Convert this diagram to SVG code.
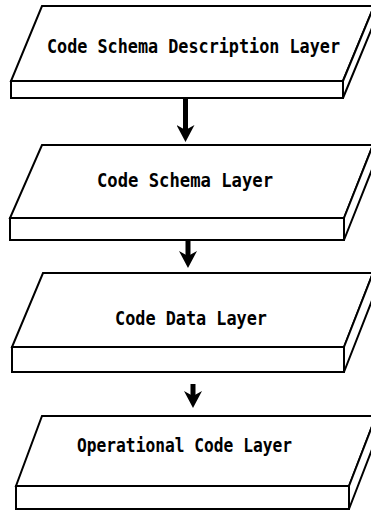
<svg xmlns="http://www.w3.org/2000/svg" width="371" height="512" viewBox="0 0 371 512">
  <style>
    .slab { fill: #ffffff; stroke: #000000; stroke-width: 2; stroke-linejoin: miter; }
    .label { font-family: "DejaVu Sans Mono", "Liberation Mono", monospace; font-weight: bold; font-size: 17px; fill: #000000; }
    .flow { stroke: #000000; stroke-width: 5; fill: none; marker-end: url(#head); }
  </style>
  <defs>
    <marker id="head" viewBox="0 0 17 18" refX="7" refY="9" markerWidth="17" markerHeight="18" markerUnits="userSpaceOnUse" orient="auto">
      <path d="M0,0 L17,9 L0,18 L5,9 Z" fill="#000000"/>
    </marker>
  </defs>
  <rect width="371" height="512" fill="#ffffff"/>

  <!-- Layer 1 -->
  <g id="code-schema-description-layer">
    <path class="slab" d="M42,6 L374,6 L343,81 L11,81 Z"/>
    <rect class="slab" x="11" y="81" width="332" height="17"/>
    <path class="slab" d="M343,81 L374,6 L374,23 L343,98 Z"/>
    <text class="label" transform="translate(47,53) scale(1,1.18)" x="0" y="0" textLength="293" lengthAdjust="spacingAndGlyphs">Code Schema Description Layer</text>
  </g>

  <!-- Layer 2 -->
  <g id="code-schema-layer">
    <path class="slab" d="M42,145 L373,145 L344,218 L10,218 Z"/>
    <rect class="slab" x="10" y="218" width="334" height="22"/>
    <path class="slab" d="M344,218 L373,145 L373,167 L344,240 Z"/>
    <text class="label" transform="translate(97,187) scale(1,1.18)" x="0" y="0" textLength="176" lengthAdjust="spacingAndGlyphs">Code Schema Layer</text>
  </g>

  <!-- Layer 3 -->
  <g id="code-data-layer">
    <path class="slab" d="M43,273 L373,273 L344,347 L12,347 Z"/>
    <rect class="slab" x="12" y="347" width="332" height="25"/>
    <path class="slab" d="M344,347 L373,273 L373,298 L344,372 Z"/>
    <text class="label" transform="translate(115,325) scale(1,1.18)" x="0" y="0" textLength="152" lengthAdjust="spacingAndGlyphs">Code Data Layer</text>
  </g>

  <!-- Layer 4 -->
  <g id="operational-code-layer">
    <path class="slab" d="M42,416 L376,416 L349,486 L16,486 Z"/>
    <rect class="slab" x="16" y="486" width="333" height="23"/>
    <path class="slab" d="M349,486 L376,416 L376,439 L349,509 Z"/>
    <text class="label" transform="translate(77,452) scale(1,1.18)" x="0" y="0" textLength="215" lengthAdjust="spacingAndGlyphs">Operational Code Layer</text>
  </g>

  <!-- Connectors between layers -->
  <g id="connectors">
    <line class="flow" x1="185.5" y1="99" x2="185.5" y2="132"/>
    <line class="flow" x1="188" y1="241" x2="188" y2="258"/>
    <line class="flow" x1="193" y1="384" x2="193" y2="398"/>
  </g>
</svg>
